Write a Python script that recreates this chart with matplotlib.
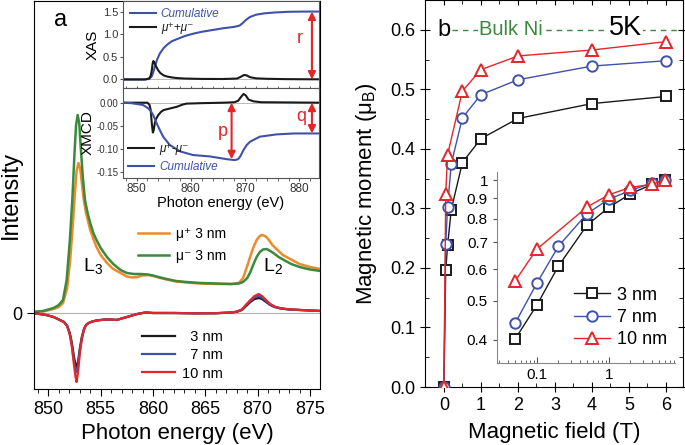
import matplotlib
matplotlib.use('Agg')
import matplotlib.pyplot as plt
import matplotlib.ticker as ticker
import numpy as np

plt.rcParams['font.family'] = ['Liberation Sans', 'DejaVu Sans']
plt.rcParams['mathtext.fontset'] = 'custom'
plt.rcParams['mathtext.rm'] = 'Liberation Sans'
plt.rcParams['mathtext.it'] = 'Liberation Sans:italic'

# ---- panel a, main: XAS for 3 nm (mu+ / mu-) ----
e_plus = [848.5, 849.5, 850.5, 851.0, 851.4, 851.8, 852.1, 852.35, 852.55, 852.7, 852.87,
          853.05, 853.2, 853.4, 853.6, 854.0, 854.3, 854.6, 855.0, 855.6, 856.2, 856.9,
          857.5, 858.0, 858.5, 859.0, 859.6, 860.0, 860.7, 861.3, 862.2, 863.2, 864.5,
          866.0, 867.5, 868.2, 868.6, 869.0, 869.3, 869.6, 869.9, 870.2, 870.4, 870.7,
          871.0, 871.4, 871.8, 872.4, 873.1, 874.0, 875.0, 876.0]
mu_plus = [0.01, 0.015, 0.04, 0.06, 0.10, 0.25, 0.55, 0.90, 1.22, 1.42, 1.50,
           1.44, 1.30, 1.12, 1.00, 0.83, 0.74, 0.66, 0.58, 0.50, 0.44, 0.40,
           0.365, 0.355, 0.36, 0.375, 0.38, 0.37, 0.35, 0.335, 0.315, 0.305, 0.295,
           0.29, 0.29, 0.30, 0.35, 0.47, 0.57, 0.66, 0.73, 0.77, 0.78, 0.77,
           0.74, 0.68, 0.64, 0.58, 0.54, 0.49, 0.46, 0.44]
e_minus = [848.5, 849.5, 850.5, 851.0, 851.4, 851.75, 852.05, 852.3, 852.5, 852.65, 852.8,
           852.95, 853.1, 853.3, 853.5, 853.75, 854.0, 854.3, 854.6, 855.0, 855.6, 856.2,
           856.9, 857.5, 858.2, 858.8, 859.5, 860.0, 860.7, 861.3, 862.2, 863.2, 864.5,
           866.0, 867.5, 868.2, 868.6, 869.0, 869.3, 869.6, 869.9, 870.2, 870.5, 870.85,
           871.2, 871.5, 872.0, 872.5, 873.2, 874.0, 875.0, 876.0]
mu_minus = [0.01, 0.02, 0.05, 0.08, 0.13, 0.33, 0.72, 1.15, 1.60, 1.88, 1.98,
            1.90, 1.65, 1.35, 1.13, 1.00, 0.90, 0.80, 0.73, 0.65, 0.56, 0.49,
            0.43, 0.40, 0.39, 0.39, 0.385, 0.375, 0.355, 0.34, 0.32, 0.31, 0.30,
            0.295, 0.29, 0.295, 0.31, 0.35, 0.41, 0.49, 0.56, 0.61, 0.635, 0.64,
            0.62, 0.60, 0.56, 0.53, 0.49, 0.46, 0.435, 0.42]

# ---- panel a, main: XMCD for three thicknesses ----
e_xmcd = [848.5, 849.8, 850.5, 851.1, 851.5, 851.8, 852.05, 852.25, 852.45, 852.6, 852.7,
          852.85, 853.0, 853.2, 853.4, 853.6, 853.85, 854.2, 854.6, 855.0, 855.5, 856.0,
          856.5, 857.0, 857.5, 858.0, 858.5, 859.0, 859.3, 860.0, 862.0, 864.0, 866.0,
          867.5, 868.0, 868.5, 868.9, 869.3, 869.7, 870.1, 870.4, 870.8, 871.2, 871.6,
          872.2, 873.0, 874.0, 875.0, 876.0]
xmcd_3nm = [0.0, -0.02, -0.04, -0.07, -0.09, -0.13, -0.20, -0.30, -0.44, -0.52, -0.54,
            -0.48, -0.36, -0.24, -0.16, -0.12, -0.10, -0.085, -0.075, -0.07, -0.065, -0.065,
            -0.07, -0.055, -0.04, -0.025, -0.01, 0.0, 0.005, 0.0, 0.0, -0.003, -0.002,
            0.005, 0.012, 0.03, 0.07, 0.11, 0.14, 0.15, 0.14, 0.11, 0.08, 0.06,
            0.045, 0.035, 0.03, 0.025, 0.02]
xmcd_7nm = [0.0, -0.02, -0.04, -0.07, -0.09, -0.13, -0.21, -0.32, -0.48, -0.57, -0.59,
            -0.52, -0.38, -0.25, -0.165, -0.12, -0.10, -0.085, -0.075, -0.07, -0.065, -0.065,
            -0.07, -0.055, -0.04, -0.025, -0.01, 0.0, 0.005, 0.0, 0.0, -0.003, -0.002,
            0.005, 0.013, 0.033, 0.078, 0.12, 0.155, 0.17, 0.155, 0.12, 0.085, 0.062,
            0.046, 0.036, 0.03, 0.025, 0.02]
xmcd_10nm = [0.0, -0.02, -0.04, -0.07, -0.09, -0.13, -0.22, -0.34, -0.52, -0.64, -0.69,
             -0.58, -0.41, -0.26, -0.17, -0.12, -0.10, -0.085, -0.075, -0.07, -0.065, -0.065,
             -0.07, -0.055, -0.04, -0.025, -0.01, 0.0, 0.005, 0.0, 0.0, -0.003, -0.002,
             0.005, 0.014, 0.036, 0.085, 0.13, 0.17, 0.19, 0.17, 0.13, 0.09, 0.065,
             0.048, 0.037, 0.031, 0.026, 0.021]

# ---- panel a, inset: XAS sum and its integral ----
e_sum = [847.5, 851.5, 852.3, 852.6, 852.8, 852.95, 853.1, 853.3, 853.6, 854.0, 854.4,
         855.0, 855.6, 856.5, 857.5, 859.0, 862.0, 866.0, 868.5, 869.2, 869.8, 870.3,
         870.9, 872.0, 874.0, 877.0, 880.0, 884.0]
xas_sum = [0.0, 0.0, 0.02, 0.08, 0.20, 0.35, 0.41, 0.37, 0.29, 0.20, 0.14,
           0.09, 0.065, 0.045, 0.03, 0.02, 0.012, 0.01, 0.02, 0.06, 0.10, 0.09,
           0.05, 0.025, 0.015, 0.008, 0.005, 0.003]
e_sum_int = [847.5, 851.5, 852.3, 852.8, 853.1, 853.4, 853.8, 854.3, 855.0, 855.7, 856.5,
             857.5, 859.0, 860.5, 862.0, 864.0, 866.0, 868.0, 869.0, 869.6, 870.2, 870.9,
             872.0, 873.5, 875.5, 878.0, 881.0, 884.0]
xas_sum_int = [0.0, 0.0, 0.01, 0.07, 0.17, 0.30, 0.45, 0.58, 0.70, 0.78, 0.85,
               0.90, 0.97, 1.02, 1.06, 1.10, 1.14, 1.17, 1.20, 1.26, 1.33, 1.39,
               1.44, 1.47, 1.49, 1.505, 1.51, 1.51]

# ---- panel a, inset: XMCD difference and its integral ----
e_diff = [847.5, 852.0, 852.4, 852.6, 852.8, 853.0, 853.15, 853.35, 853.6, 854.0, 854.5,
          855.0, 856.0, 857.4, 858.5, 859.2, 862.0, 866.0, 868.0, 868.7, 869.2, 869.7,
          870.1, 870.6, 871.5, 873.0, 884.0]
xmcd_diff = [0.0, 0.0, -0.005, -0.016, -0.045, -0.065, -0.06, -0.045, -0.035, -0.027, -0.02,
             -0.016, -0.013, -0.009, -0.004, -0.002, -0.001, 0.0, 0.001, 0.004, 0.012, 0.019,
             0.016, 0.007, 0.003, 0.001, 0.0]
e_diff_int = [847.5, 849.0, 851.2, 852.1, 852.6, 853.06, 853.7, 854.3, 854.9, 856.1, 858.0,
              860.4, 863.5, 866.6, 868.1, 868.7, 869.1, 869.7, 870.3, 870.9, 872.7, 875.8,
              879.0, 884.0]
xmcd_diff_int = [0.0, -0.001, -0.005, -0.012, -0.018, -0.027, -0.045, -0.06, -0.074, -0.092, -0.106,
                 -0.114, -0.117, -0.123, -0.125, -0.123, -0.117, -0.103, -0.092, -0.085, -0.074, -0.069,
                 -0.067, -0.067]

# ---- panel b: magnetic moment vs field ----
field = [0, 0.05, 0.1, 0.2, 0.5, 1, 2, 4, 6]
moment_3nm = [0, 0.196, 0.238, 0.298, 0.377, 0.417, 0.451, 0.476, 0.488]
moment_7nm = [0, 0.241, 0.303, 0.375, 0.452, 0.491, 0.516, 0.539, 0.548]
field_10nm = [0, 0.05, 0.1, 0.5, 1, 2, 4, 6]
moment_10nm = [0, 0.325, 0.390, 0.497, 0.533, 0.556, 0.566, 0.580]
bulk_ni = 0.6

orange = '#ee8a2a'
green = '#3b8a3b'
blue = '#3f52a8'
red = '#e3262a'
gray = '#555555'

W, H = 685.0, 445.0
def box(l, t, r, b):
    return [l / W, 1 - b / H, (r - l) / W, (b - t) / H]

fig = plt.figure(figsize=(6.85, 4.45), dpi=100)

# ================= panel a main =================
ax = fig.add_axes(box(34, 1, 320, 389))
ax.axhline(0, color='#b0b0b0', lw=0.8, zorder=1)
ax.plot(e_plus, mu_plus, color=orange, lw=1.8, label='μ⁺ 3 nm')
ax.plot(e_minus, mu_minus, color=green, lw=1.8, label='μ⁻ 3 nm')
ax.plot(e_xmcd, xmcd_3nm, color='#1a1a1a', lw=1.6, label='  3 nm')
ax.plot(e_xmcd, xmcd_7nm, color=blue, lw=1.6, label='  7 nm')
ax.plot(e_xmcd, xmcd_10nm, color=red, lw=1.6, label='10 nm')
ax.set_xlim(848.63, 875.95)
ax.set_ylim(-0.76, 3.12)
ax.xaxis.set_major_locator(ticker.MultipleLocator(5))
ax.xaxis.set_minor_locator(ticker.MultipleLocator(1))
ax.set_yticks([0])
ax.tick_params(axis='both', which='major', labelsize=13, direction='out', length=5)
ax.tick_params(axis='x', which='minor', direction='out', length=3)
ax.set_xlabel('Photon energy (eV)', fontsize=16, labelpad=4)
ax.set_ylabel('Intensity', fontsize=17)
ax.yaxis.label.set_va('center')
ax.yaxis.set_label_coords(-0.08, 0.5)
ax.text(0.07, 0.95, 'a', transform=ax.transAxes, fontsize=17, va='center')
ax.text(853.3, 0.42, r'$\mathregular{L_3}$', fontsize=14)
ax.text(870.5, 0.42, r'$\mathregular{L_2}$', fontsize=14)
h = ax.get_legend_handles_labels()
leg1 = ax.legend(h[0][:2], h[1][:2], loc='lower left', bbox_to_anchor=(0.32, 0.293),
                 frameon=False, fontsize=10, handlelength=2.2, labelspacing=0.55,
                 handletextpad=0.5)
ax.add_artist(leg1)
ax.legend(h[0][2:], h[1][2:], loc='lower left', bbox_to_anchor=(0.33, -0.012),
          frameon=False, fontsize=10.5, handlelength=2.3, labelspacing=0.3,
          handletextpad=0.5)

# ================= panel a inset: XAS =================
ax1 = fig.add_axes(box(123, 1, 319, 88))
ax1.axhline(0, color='#b0b0b0', lw=0.6, zorder=1)
ax1.plot(e_sum_int, xas_sum_int, color=blue, lw=1.5, label='Cumulative')
ax1.plot(e_sum, xas_sum, color='#1a1a1a', lw=1.5, label='μ⁺+μ⁻')
ax1.set_xlim(847.5, 883.6)
ax1.set_ylim(-0.19, 1.745)
ax1.yaxis.set_major_locator(ticker.MultipleLocator(0.5))
ax1.yaxis.set_major_formatter(ticker.FormatStrFormatter('%.1f'))
ax1.xaxis.set_major_locator(ticker.MultipleLocator(10))
ax1.xaxis.set_minor_locator(ticker.MultipleLocator(2))
ax1.tick_params(axis='x', which='both', labelbottom=False, direction='inout', length=3, color=gray)
ax1.tick_params(axis='y', labelsize=8, length=2, color=gray, labelcolor='#333333', pad=1.5)
ax1.set_ylabel('XAS', fontsize=11, labelpad=2)
ax1.annotate('', xy=(882.3, 0.0), xytext=(882.3, 1.51),
             arrowprops=dict(arrowstyle='<|-|>', color=red, lw=1.5, mutation_scale=11,
                             shrinkA=0, shrinkB=0))
ax1.text(880.0, 0.9, 'r', color=red, fontsize=13, ha='center', va='center')
lg = ax1.legend(loc='upper left', frameon=False, fontsize=8.5, handlelength=2.2,
                labelspacing=0.2, borderaxespad=0.2, handletextpad=0.4)
for t, c in zip(lg.get_texts(), [blue, '#1a1a1a']):
    t.set_color(c)
    t.set_fontstyle('italic')

# ================= panel a inset: XMCD =================
ax2 = fig.add_axes(box(123, 88, 319, 178))
ax2.axhline(0, color='#b0b0b0', lw=0.6, zorder=1)
ax2.plot(e_diff, xmcd_diff, color='#1a1a1a', lw=1.5, label='μ⁺-μ⁻')
ax2.plot(e_diff_int, xmcd_diff_int, color=blue, lw=1.5, label='Cumulative')
ax2.set_xlim(847.5, 883.6)
ax2.set_ylim(-0.164, 0.032)
ax2.yaxis.set_major_locator(ticker.MultipleLocator(0.05))
ax2.yaxis.set_major_formatter(ticker.FormatStrFormatter('%.2f'))
ax2.xaxis.set_major_locator(ticker.MultipleLocator(10))
ax2.xaxis.set_minor_locator(ticker.MultipleLocator(2))
ax2.tick_params(axis='x', which='both', labelsize=8.5, length=2, color=gray, labelcolor='#333333', pad=1.5)
ax2.tick_params(axis='y', labelsize=7, length=2, color=gray, labelcolor='#333333', pad=1.5)
ax2.set_ylabel('XMCD', fontsize=11, labelpad=1)
ax2.set_xlabel('Photon energy (eV)', fontsize=10.5, labelpad=1)
ax2.annotate('', xy=(867.5, -0.123), xytext=(867.5, 0.0),
             arrowprops=dict(arrowstyle='<|-|>', color=red, lw=1.5, mutation_scale=11,
                             shrinkA=0, shrinkB=0))
ax2.text(865.8, -0.062, 'p', color=red, fontsize=13, ha='center', va='center')
ax2.annotate('', xy=(882.3, -0.067), xytext=(882.3, 0.0),
             arrowprops=dict(arrowstyle='<|-|>', color=red, lw=1.5, mutation_scale=11,
                             shrinkA=0, shrinkB=0))
ax2.text(880.3, -0.031, 'q', color=red, fontsize=13, ha='center', va='center')
lg2 = ax2.legend(loc='lower left', frameon=False, fontsize=8.5, handlelength=2.2,
                 labelspacing=0.45, borderaxespad=0.05, handletextpad=0.4)
for t, c in zip(lg2.get_texts(), ['#1a1a1a', blue]):
    t.set_color(c)
    t.set_fontstyle('italic')
for a in (ax1, ax2):
    for s in a.spines.values():
        s.set_color(gray)
        s.set_linewidth(0.8)

# ================= panel b =================
bx = fig.add_axes(box(425, 0, 683, 387))
bx.plot([0.22, 6.6], [bulk_ni, bulk_ni], color=green, ls=(0, (4, 3.5)), lw=1.0, zorder=1)
mk = dict(mfc='white', mew=1.4, lw=1.0, zorder=3)
bx.plot(field, moment_3nm, color='#1a1a1a', marker='s', ms=6.5, label='3 nm', **mk)
bx.plot(field, moment_7nm, color=blue, marker='o', ms=7.5, label='7 nm', **mk)
bx.plot(field_10nm, moment_10nm, color=red, marker='^', ms=8.5, label='10 nm', **mk)
bx.set_xlim(-0.51, 6.46)
bx.set_ylim(0, 0.65)
bx.xaxis.set_major_locator(ticker.MultipleLocator(1))
bx.xaxis.set_minor_locator(ticker.MultipleLocator(0.5))
bx.yaxis.set_major_locator(ticker.MultipleLocator(0.1))
bx.yaxis.set_minor_locator(ticker.MultipleLocator(0.05))
bx.yaxis.set_major_formatter(ticker.FormatStrFormatter('%.1f'))
bx.tick_params(which='major', direction='inout', length=7, top=True, right=True, labelsize=13)
bx.tick_params(which='minor', direction='in', length=3, top=True, right=True)
bx.set_xlabel('Magnetic field (T)', fontsize=16, labelpad=6)
bx.set_ylabel(r'Magnetic moment ($\mathregular{\mu_B}$)', fontsize=16, labelpad=8)
bx.text(0.0, 0.6, 'b', fontsize=17, ha='center', va='center', zorder=2,
        bbox=dict(fc='white', ec='none', pad=1))
bx.text(0.95, 0.6, 'Bulk Ni', fontsize=14.5, color=green, ha='left', va='center', zorder=2,
        bbox=dict(fc='white', ec='none', pad=0.5))
bx.text(4.45, 0.603, '5K', fontsize=19.5, ha='left', va='center', zorder=2,
        bbox=dict(fc='white', ec='none', pad=0.5))

# ================= panel b inset =================
ix = fig.add_axes(box(497, 172, 675, 363))
ix.plot(field[1:], np.array(moment_3nm[1:]) / moment_3nm[-1], color='#1a1a1a', marker='s', ms=6.5, label='3 nm', **mk)
ix.plot(field[1:], np.array(moment_7nm[1:]) / moment_7nm[-1], color=blue, marker='o', ms=7.5, label='7 nm', **mk)
ix.plot(field_10nm[1:], np.array(moment_10nm[1:]) / moment_10nm[-1], color=red, marker='^', ms=8.5, label='10 nm', **mk)
ix.set_xscale('log')
ix.set_yscale('log')
ix.set_xlim(0.028, 8.3)
ix.set_ylim(0.35, 1.047)
ix.yaxis.set_major_locator(ticker.FixedLocator([0.4, 0.5, 0.6, 0.7, 0.8, 0.9, 1.0]))
ix.yaxis.set_major_formatter(ticker.FixedFormatter(['0.4', '0.5', '0.6', '0.7', '0.8', '0.9', '1']))
ix.yaxis.set_minor_locator(ticker.NullLocator())
ix.xaxis.set_major_locator(ticker.FixedLocator([0.1, 1]))
ix.xaxis.set_major_formatter(ticker.FixedFormatter(['0.1', '1']))
ix.tick_params(axis='x', which='major', direction='in', length=4, labelsize=11, color=gray)
ix.tick_params(axis='x', which='minor', direction='in', length=2, color=gray)
ix.tick_params(axis='y', direction='out', length=3, labelsize=11, color=gray)
ix.spines['top'].set_visible(False)
ix.spines['right'].set_visible(False)
for s in ('left', 'bottom'):
    ix.spines[s].set_color('#888888')
ix.patch.set_alpha(0)
ix.legend(loc='lower left', bbox_to_anchor=(0.37, 0.02), frameon=False, fontsize=13,
          handlelength=2.0, labelspacing=0.3, handletextpad=0.4, numpoints=1,
          borderaxespad=0.2)

fig.savefig('out.png', dpi=100)
